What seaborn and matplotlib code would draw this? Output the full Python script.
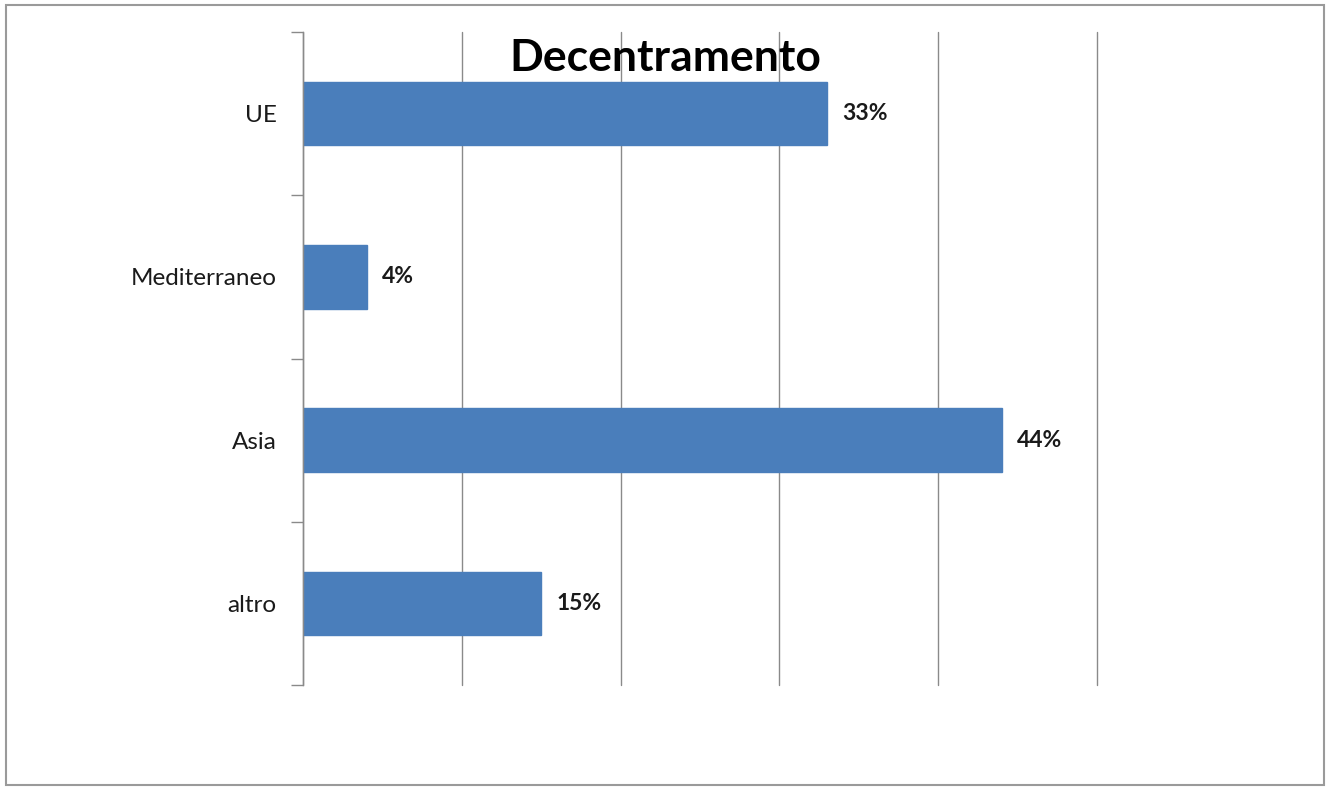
import matplotlib
matplotlib.use("Agg")
import matplotlib.pyplot as plt
from matplotlib.patches import Rectangle
from matplotlib.ticker import FixedLocator, MultipleLocator
import seaborn as sns
import pandas as pd

# Data
categories = ["UE", "Mediterraneo", "Asia", "altro"]
values = [33, 4, 44, 15]
value_labels = ["33%", "4%", "44%", "15%"]
title = "Decentramento"

sns.set_theme(style="white")
plt.rcParams["font.family"] = ["Lato", "DejaVu Sans"]

df = pd.DataFrame({"categoria": categories, "valore": values})

fig = plt.figure(figsize=(13.3, 7.87), dpi=100)
ax = fig.add_axes([303 / 1330, 1 - 685 / 787, (1097 - 303) / 1330, (685 - 32) / 787])

sns.barplot(data=df, x="valore", y="categoria", orient="h", color="#4a7ebb",
            width=0.39, saturation=1, ax=ax, edgecolor="#4a7ebb")

ax.set_xlim(0, 50)
ax.set_ylim(len(categories) - 0.5, -0.5)
ax.xaxis.set_major_locator(MultipleLocator(10))
ax.grid(axis="x", color="#8a8a8a", linewidth=1.0)
for gl in ax.get_xgridlines():
    gl.set_clip_on(False)
ax.set_axisbelow(True)
ax.tick_params(axis="x", bottom=False, labelbottom=False)

# category labels at centre, tick marks at category boundaries
ax.yaxis.set_minor_locator(FixedLocator([i - 0.5 for i in range(len(categories) + 1)]))
ax.tick_params(axis="y", which="major", length=0, pad=19, labelsize=17.5, labelcolor="#1a1a1a")
ax.tick_params(axis="y", which="minor", left=True, length=9, width=1, color="#8a8a8a")
ax.set_xlabel("")
ax.set_ylabel("")

for side in ["top", "right", "bottom"]:
    ax.spines[side].set_visible(False)
ax.spines["left"].set_color("#8a8a8a")
ax.spines["left"].set_linewidth(1.0)

for i, (v, lab) in enumerate(zip(values, value_labels)):
    ax.annotate(lab, xy=(v, i), xytext=(11, 0), textcoords="offset points",
                ha="left", va="center", fontsize=16.5, fontweight="bold", color="#1a1a1a")

fig.text(665 / 1330, 1 - 58 / 787, title, ha="center", va="center",
         fontsize=32, fontweight="bold", color="#000000")

# outer frame
fig.patches.append(Rectangle((6 / 1330, 2 / 787), 1318 / 1330, 780 / 787,
                             transform=fig.transFigure, fill=False,
                             edgecolor="#9a9a9a", linewidth=1.5))

fig.savefig("out.png", dpi=100)
